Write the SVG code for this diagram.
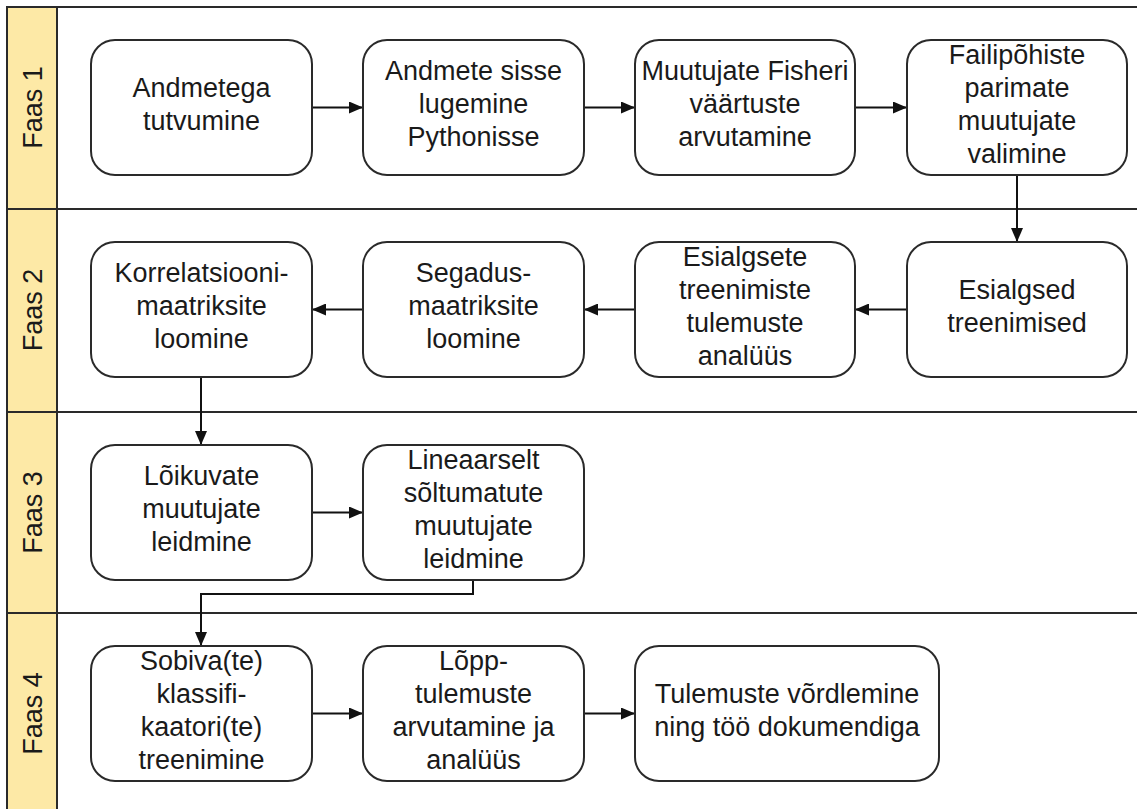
<svg xmlns="http://www.w3.org/2000/svg" width="1137" height="809" viewBox="0 0 1137 809">
<defs>
<marker id="arr" markerUnits="userSpaceOnUse" markerWidth="14" markerHeight="12" refX="14" refY="6" orient="auto">
<path d="M0,0 L14,6 L0,12 z" fill="#111"/>
</marker>
<style>
.lane{fill:none;stroke:#2a2a2a;stroke-width:2}
.hdr{fill:#fde9a6;stroke:#2a2a2a;stroke-width:2}
.box{fill:#fff;stroke:#2a2a2a;stroke-width:2}
.t{font-family:"Liberation Sans",Arial,sans-serif;font-size:27px;fill:#1a1a1a;text-anchor:middle}
.c{fill:none;stroke:#111;stroke-width:2}
</style>
</defs>
<rect x="0" y="0" width="1137" height="809" fill="#fff"/>
<g id="lanes">
<rect class="hdr" x="7" y="7" width="50" height="810"/>
<line class="lane" x1="7" y1="7" x2="1137" y2="7"/>
<line class="lane" x1="7" y1="209" x2="1137" y2="209"/>
<line class="lane" x1="7" y1="412" x2="1137" y2="412"/>
<line class="lane" x1="7" y1="613" x2="1137" y2="613"/>
<text class="t" transform="translate(42,107.5) rotate(-90)">Faas 1</text>
<text class="t" transform="translate(42,310) rotate(-90)">Faas 2</text>
<text class="t" transform="translate(42,512.5) rotate(-90)">Faas 3</text>
<text class="t" transform="translate(42,713.5) rotate(-90)">Faas 4</text>
</g>
<g id="connectors">
<path class="c" marker-end="url(#arr)" d="M312,107.5 L363,107.5"/>
<path class="c" marker-end="url(#arr)" d="M584,107.5 L635,107.5"/>
<path class="c" marker-end="url(#arr)" d="M855,107.5 L907,107.5"/>
<path class="c" marker-end="url(#arr)" d="M1017,175 L1017,242"/>
<path class="c" marker-end="url(#arr)" d="M907,309.5 L855,309.5"/>
<path class="c" marker-end="url(#arr)" d="M635,309.5 L584,309.5"/>
<path class="c" marker-end="url(#arr)" d="M363,309.5 L312,309.5"/>
<path class="c" marker-end="url(#arr)" d="M201,377 L201,445"/>
<path class="c" marker-end="url(#arr)" d="M312,512.5 L363,512.5"/>
<path class="c" marker-end="url(#arr)" d="M473,580 L473,594 L201,594 L201,646"/>
<path class="c" marker-end="url(#arr)" d="M312,713.5 L363,713.5"/>
<path class="c" marker-end="url(#arr)" d="M584,713.5 L635,713.5"/>
</g>
<g id="n1"><rect class="box" x="91" y="40" width="221" height="135" rx="24"/>
<text class="t" x="201.5" y="96.5">Andmetega</text><text class="t" x="201.5" y="129.5">tutvumine</text></g>
<g id="n2"><rect class="box" x="363" y="40" width="221" height="135" rx="24"/>
<text class="t" x="473.5" y="80">Andmete sisse</text><text class="t" x="473.5" y="113">lugemine</text><text class="t" x="473.5" y="146">Pythonisse</text></g>
<g id="n3"><rect class="box" x="635" y="40" width="220" height="135" rx="24"/>
<text class="t" x="745" y="80">Muutujate Fisheri</text><text class="t" x="745" y="113">väärtuste</text><text class="t" x="745" y="146">arvutamine</text></g>
<g id="n4"><rect class="box" x="907" y="40" width="220" height="135" rx="24"/>
<text class="t" x="1017" y="63.5">Failipõhiste</text><text class="t" x="1017" y="96.5">parimate</text><text class="t" x="1017" y="129.5">muutujate</text><text class="t" x="1017" y="162.5">valimine</text></g>
<g id="n5"><rect class="box" x="907" y="242" width="220" height="135" rx="24"/>
<text class="t" x="1017" y="298.5">Esialgsed</text><text class="t" x="1017" y="331.5">treenimised</text></g>
<g id="n6"><rect class="box" x="635" y="242" width="220" height="135" rx="24"/>
<text class="t" x="745" y="265.5">Esialgsete</text><text class="t" x="745" y="298.5">treenimiste</text><text class="t" x="745" y="331.5">tulemuste</text><text class="t" x="745" y="364.5">analüüs</text></g>
<g id="n7"><rect class="box" x="363" y="242" width="221" height="135" rx="24"/>
<text class="t" x="473.5" y="282">Segadus-</text><text class="t" x="473.5" y="315">maatriksite</text><text class="t" x="473.5" y="348">loomine</text></g>
<g id="n8"><rect class="box" x="91" y="242" width="221" height="135" rx="24"/>
<text class="t" x="201.5" y="282">Korrelatsiooni-</text><text class="t" x="201.5" y="315">maatriksite</text><text class="t" x="201.5" y="348">loomine</text></g>
<g id="n9"><rect class="box" x="91" y="445" width="221" height="135" rx="24"/>
<text class="t" x="201.5" y="485">Lõikuvate</text><text class="t" x="201.5" y="518">muutujate</text><text class="t" x="201.5" y="551">leidmine</text></g>
<g id="n10"><rect class="box" x="363" y="445" width="221" height="135" rx="24"/>
<text class="t" x="473.5" y="468.5">Lineaarselt</text><text class="t" x="473.5" y="501.5">sõltumatute</text><text class="t" x="473.5" y="534.5">muutujate</text><text class="t" x="473.5" y="567.5">leidmine</text></g>
<g id="n11"><rect class="box" x="91" y="646" width="221" height="135" rx="24"/>
<text class="t" x="201.5" y="669.5">Sobiva(te)</text><text class="t" x="201.5" y="702.5">klassifi-</text><text class="t" x="201.5" y="735.5">kaatori(te)</text><text class="t" x="201.5" y="768.5">treenimine</text></g>
<g id="n12"><rect class="box" x="363" y="646" width="221" height="135" rx="24"/>
<text class="t" x="473.5" y="669.5">Lõpp-</text><text class="t" x="473.5" y="702.5">tulemuste</text><text class="t" x="473.5" y="735.5">arvutamine ja</text><text class="t" x="473.5" y="768.5">analüüs</text></g>
<g id="n13"><rect class="box" x="635" y="646" width="304" height="135" rx="24"/>
<text class="t" x="787" y="702.5">Tulemuste võrdlemine</text><text class="t" x="787" y="735.5">ning töö dokumendiga</text></g>
</svg>
